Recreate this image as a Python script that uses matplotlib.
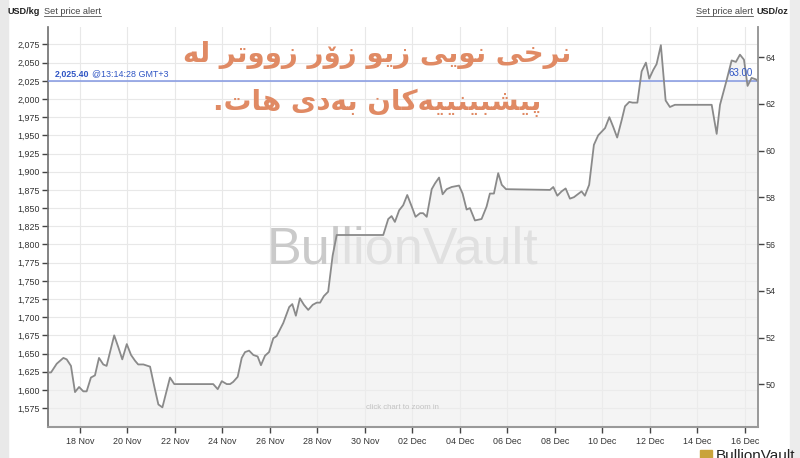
import datetime as dt
import numpy as np
import matplotlib
matplotlib.use("Agg")
import matplotlib.pyplot as plt
import matplotlib.dates as mdates
from matplotlib.ticker import FixedLocator, FuncFormatter
from matplotlib.patches import Rectangle
from matplotlib.lines import Line2D

# ── data: silver price, days after 16 Nov 2025 (GMT+3) ──
days = [0.64, 0.78, 1.02, 1.30, 1.44, 1.62, 1.79, 1.96, 2.14, 2.28,
        2.46, 2.63, 2.80, 2.98, 3.12, 3.44, 3.61, 3.78, 3.97, 4.15,
        4.32, 4.45, 4.67, 4.95, 5.16, 5.30, 5.47, 5.79, 5.97, 7.61,
        7.80, 7.97, 8.18, 8.32, 8.45, 8.64, 8.81, 8.95, 9.12, 9.30,
        9.48, 9.62, 9.79, 9.96, 10.14, 10.28, 10.56, 10.81, 10.94, 11.09,
        11.26, 11.43, 11.61, 11.80, 11.97, 12.11, 12.27, 12.45, 12.64, 12.81,
        14.77, 14.98, 15.12, 15.26, 15.44, 15.61, 15.78, 15.97, 16.13, 16.32,
        16.45, 16.60, 16.81, 16.95, 17.12, 17.27, 17.44, 17.65, 17.96, 18.11,
        18.28, 18.42, 18.63, 18.91, 19.12, 19.26, 19.43, 19.61, 19.76, 19.94,
        21.79, 21.93, 22.10, 22.28, 22.45, 22.63, 22.80, 23.12, 23.26, 23.44,
        23.64, 23.82, 24.11, 24.29, 24.45, 24.62, 24.81, 24.95, 25.13, 25.27,
        25.47, 25.65, 25.83, 25.97, 26.14, 26.28, 26.46, 26.66, 26.84, 27.05,
        28.60, 28.81, 28.95, 29.23, 29.44, 29.62, 29.79, 29.96, 30.11, 30.28,
        30.46, 30.56]
usd_kg = [1624, 1624, 1636, 1644, 1642, 1633, 1597, 1604, 1598, 1598,
          1617, 1620, 1644, 1635, 1633, 1675, 1659, 1642, 1663, 1648,
          1640, 1635, 1635, 1632, 1600, 1580, 1576, 1617, 1608, 1608,
          1601, 1612, 1608, 1608, 1611, 1618, 1644, 1652, 1654, 1648,
          1646, 1634, 1647, 1652, 1671, 1674, 1692, 1714, 1718, 1702,
          1726, 1717, 1710, 1717, 1720, 1720, 1729, 1735, 1785, 1813,
          1813, 1835, 1839, 1831, 1847, 1854, 1868, 1852, 1838, 1843,
          1843, 1838, 1876, 1884, 1892, 1869, 1876, 1879, 1881, 1870,
          1848, 1850, 1833, 1835, 1852, 1870, 1870, 1898, 1882, 1876,
          1875, 1879, 1867, 1873, 1877, 1863, 1865, 1873, 1867, 1882,
          1937, 1950, 1960, 1975, 1962, 1947, 1971, 1990, 1996, 1995,
          1995, 2038, 2050, 2028, 2040, 2048, 2074, 1998, 1989, 1992,
          1992, 1952, 1992, 2026, 2053, 2051, 2061, 2054, 2018, 2029,
          2027, 2024]

start = dt.datetime(2025, 11, 16)
x_range = (0.64, 30.55)
kg_ticks = list(range(1575, 2076, 25))
kg_range = (1549, 2099)
oz_ticks = list(range(50, 65, 2))
KG_PER_OZ = 32.1507

alert_kg = 2025.40
alert_oz = 63.00
alert_time = "13:14:28 GMT+3"

title_lines = ["نرخی نوێی زیو زۆر زووتر لە", "پێشبینییەکان بەدی هات."]

# ── minimal arabic-script shaping (matplotlib draws glyphs left-to-right, unshaped) ──
FORMS = {
    "ن": "\ufee5\ufee6\ufee7\ufee8",
    "خ": "\ufea5\ufea6\ufea7\ufea8",
    "ی": "\ufbfc\ufbfd\ufbfe\ufbff",
    "ێ": "\u06ce\ufbfd\ufbfe\ufbff",
    "ت": "\ufe95\ufe96\ufe97\ufe98",
    "ل": "\ufedd\ufede\ufedf\ufee0",
    "پ": "\ufb56\ufb57\ufb58\ufb59",
    "ش": "\ufeb5\ufeb6\ufeb7\ufeb8",
    "ب": "\ufe8f\ufe90\ufe91\ufe92",
    "ک": "\ufb8e\ufb8f\ufb90\ufb91",
    "ه": "\ufee9\ufeea\ufeeb\ufeec",
    "ر": "\ufead\ufeae",
    "ز": "\ufeaf\ufeb0",
    "و": "\ufeed\ufeee",
    "ۆ": "\ufbd9\ufbda",
    "ا": "\ufe8d\ufe8e",
    "د": "\ufea9\ufeaa",
    "ە": "\u06d5\ufeea",
}


def shape(text):
    out = []
    for i, ch in enumerate(text):
        f = FORMS.get(ch)
        if f is None:
            out.append(ch)
            continue
        prev = text[i - 1] if i > 0 else ""
        nxt = text[i + 1] if i + 1 < len(text) else ""
        jp = len(FORMS.get(prev, "")) == 4
        jn = len(f) == 4 and nxt in FORMS
        out.append(f[{(False, False): 0, (True, False): 1,
                      (False, True): 2, (True, True): 3}[(jp, jn)]])
    return "".join(reversed(out))


plt.rcParams['font.family'] = ['Liberation Sans', 'DejaVu Sans']

W, H = 800, 458
fig = plt.figure(figsize=(W / 100, H / 100), dpi=100, facecolor='white')
ax = fig.add_axes([47.7 / W, 1 - 427 / H, (758 - 47.7) / W, (427 - 27) / H])
ax.set_facecolor('white')

# side bands of the page
fig.patches.append(Rectangle((0, 0), 8 / W, 1, transform=fig.transFigure,
                             color='#e9e9e9', zorder=0))
fig.patches.append(Rectangle((790 / W, 0), 10 / W, 1, transform=fig.transFigure,
                             color='#ececec', zorder=0))

x = mdates.date2num(start) + np.array(days)
y = np.array(usd_kg)

# watermark, partly veiled by the area fill
ax.text(0.5, 0.443, 'BullionVault', transform=ax.transAxes, ha='center', va='center',
        fontsize=37.5, color='#cacaca', zorder=1)
ax.fill_between(x, y, kg_range[0], color='#eeeeee', alpha=0.62, lw=0, zorder=2)
ax.plot(x, y, color='#8a8a8a', lw=1.3, zorder=4)
ax.axhline(alert_kg, color='#8398e2', lw=1.1, zorder=3)

ax.set_xlim(mdates.date2num(start) + x_range[0], mdates.date2num(start) + x_range[1])
ax.set_ylim(*kg_range)
ax.yaxis.set_major_locator(FixedLocator(kg_ticks))
ax.yaxis.set_major_formatter(FuncFormatter(lambda v, p: f"{v:,.0f}"))
ax.xaxis.set_major_locator(mdates.DayLocator(bymonthday=range(2, 31, 2)))
ax.xaxis.set_major_formatter(mdates.DateFormatter('%d %b'))
ax.grid(True, color='#e8e8e8', lw=0.8, zorder=0)
ax.set_axisbelow(True)

ax.spines['top'].set_visible(False)
ax.spines['left'].set_color('#6e6e6e')
ax.spines['left'].set_linewidth(1.2)
ax.spines['bottom'].set_color('#999999')
ax.spines['bottom'].set_linewidth(1.5)
ax.spines['right'].set_color('#999999')
ax.spines['right'].set_linewidth(1.2)
ax.tick_params(axis='y', length=4, width=1, color='#444444', labelsize=6.4,
               labelcolor='#333333', pad=1.5)
ax.tick_params(axis='x', length=4, width=1, color='#444444', labelsize=6.4,
               labelcolor='#333333', pad=3.5)

ax2 = ax.twinx()
ax2.set_ylim(kg_range[0] / KG_PER_OZ, kg_range[1] / KG_PER_OZ)
ax2.yaxis.set_major_locator(FixedLocator(oz_ticks))
ax2.tick_params(axis='y', length=4, width=1, color='#444444', labelsize=6.4,
                labelcolor='#333333', pad=1.5)
for s in ['top', 'left', 'bottom']:
    ax2.spines[s].set_visible(False)
ax2.spines['right'].set_color('#999999')
ax2.spines['right'].set_linewidth(1.2)

# alert labels
blue = '#2f55c4'
t1 = ax.annotate(f"{alert_kg:,.2f}", xy=(0, alert_kg), xycoords=ax.get_yaxis_transform(),
                 xytext=(5, 1.5), textcoords='offset points', va='bottom',
                 fontsize=6.4, color=blue, fontweight='bold', zorder=5)
ax.annotate(f"@{alert_time}", xy=(1, 0), xycoords=t1, xytext=(2, 0),
            textcoords='offset points', va='bottom', fontsize=6.4, color=blue, zorder=5)
ax2.annotate(f"{alert_oz:.2f}", xy=(1, alert_oz), xycoords=ax2.get_yaxis_transform(),
             xytext=(-4, 1.5), textcoords='offset points', va='bottom', ha='right',
             fontsize=7, color=blue, zorder=5)

ax.text(0.5, 0.045, 'click chart to zoom in', transform=ax.transAxes, ha='center',
        fontsize=5.6, color='#c2c2c2')

# header
h1 = fig.text(8 / W, 1 - 12 / H, 'USD/kg', fontsize=6.6, fontweight='bold',
              color='#222222', va='center')
h2 = ax.annotate('Set price alert', xy=(1, 0.5), xycoords=h1, xytext=(2.5, 0),
                 textcoords='offset points', va='center', fontsize=6.6, color='#444444',
                 annotation_clip=False)
h3 = fig.text(788 / W, 1 - 12 / H, 'USD/oz', fontsize=6.6, fontweight='bold',
              color='#222222', va='center', ha='right')
h4 = ax.annotate('Set price alert', xy=(0, 0.5), xycoords=h3, xytext=(-2.5, 0),
                 textcoords='offset points', va='center', ha='right', fontsize=6.6,
                 color='#444444', annotation_clip=False)

# headline
for i, line in enumerate(title_lines):
    fig.text(377 / W, 1 - (55 + 48 * i) / H, shape(line), ha='center', va='center',
             fontsize=20, fontweight='bold', color='#e08a64',
             family=['DejaVu Sans'])

# logo at the bottom right, cut by the page edge (as in the screenshot)
fig.patches.append(Rectangle((700 / W, 0), 12 / W, 8 / H, transform=fig.transFigure,
                             color='#c9a33a', zorder=3))
fig.text(716 / W, 1 - 449 / H, 'BullionVault', fontsize=11, color='#222222', va='top')

# underline the links
fig.canvas.draw()
r = fig.canvas.get_renderer()
for t in (h2, h4):
    bb = t.get_window_extent(r)
    fig.add_artist(Line2D([bb.x0, bb.x1], [bb.y0 + 0.5, bb.y0 + 0.5],
                          transform=None, color='#555555', lw=0.6))

fig.savefig('out.png', dpi=100)
